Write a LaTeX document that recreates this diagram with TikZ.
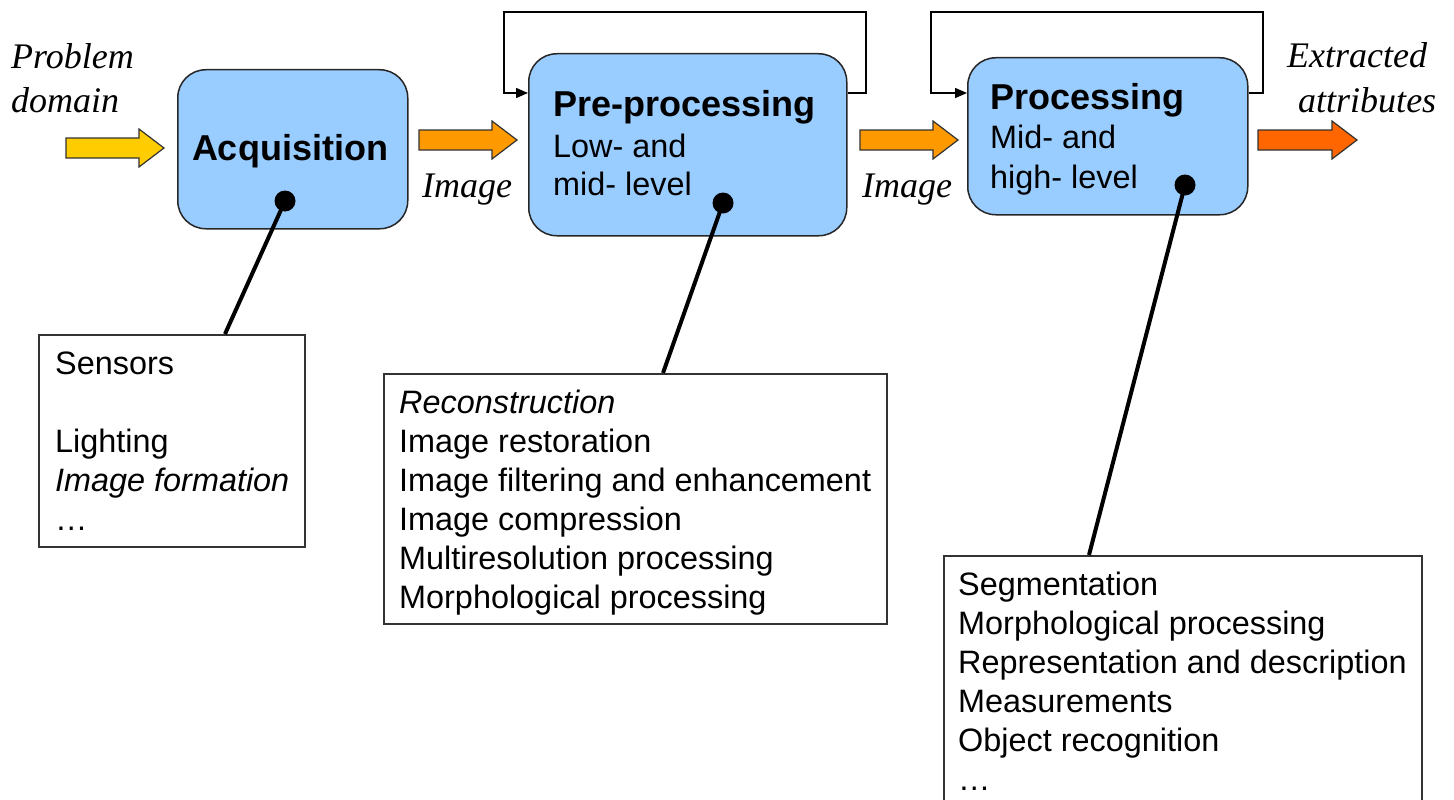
\documentclass[tikz,border=0pt]{standalone}
\usepackage{fontspec}
\setmainfont{Liberation Serif}
\newfontfamily\arialfont{Liberation Sans}
\usetikzlibrary{arrows.meta}
\definecolor{boxblue}{HTML}{99CCFF}
\definecolor{arrowyellow}{HTML}{FFCC00}
\definecolor{arroworange}{HTML}{FF9900}
\definecolor{arrowred}{HTML}{FF6600}
\newcommand\blockarr[5]{% name, x start, x tip, y centre, colour
  \draw[blockarrow, fill=#5] (#2,#4-10) -- (#3-25,#4-10) -- (#3-25,#4-19) -- (#3,#4)
    -- (#3-25,#4+19) -- (#3-25,#4+10) -- (#2,#4+10) -- cycle;
  \coordinate (#1) at (#3,#4);}
\begin{document}
\begin{tikzpicture}[x=1pt,y=-1pt,
  stage/.style={draw=black!85, line width=1.5pt, fill=boxblue, rounded corners=28pt,
    anchor=north west, inner sep=0pt},
  listbox/.style={draw=black!80, line width=1.5pt, fill=white, anchor=north west, inner sep=0pt},
  titletext/.style={font=\arialfont\bfseries\fontsize{36}{43}\selectfont, anchor=base west, inner sep=0pt},
  itemtext/.style={font=\arialfont\fontsize{32.4}{39}\selectfont, anchor=base west, inner sep=0pt},
  labeltext/.style={font=\itshape\fontsize{36}{43}\selectfont, anchor=base west, inner sep=0pt},
  feedback/.style={line width=1.5pt, -{Triangle[length=12pt,width=10pt]}},
  leader/.style={line width=4pt},
  dotnode/.style={circle, fill=black, inner sep=0pt, minimum size=21pt},
  blockarrow/.style={draw=black!80, line width=1.2pt}]
\useasboundingbox (0,0) rectangle (1454,800);
\clip (0,0) rectangle (1454,800);

% stages
\node[stage, minimum width=230pt, minimum height=159pt] (acq) at (177,69) {};
\node[stage, minimum width=318pt, minimum height=182pt] (pre) at (528,53) {};
\node[stage, minimum width=280pt, minimum height=157pt] (proc) at (967,57) {};

\node[titletext, anchor=base] (acqt) at (290,160) {Acquisition};
\node[titletext] (pret) at (553,117) {Pre-processing};
\node[itemtext] (pre1) at (553,157) {Low- and};
\node[itemtext] (pre2) at (553,195) {mid- level};
\node[titletext] (proct) at (990,110) {Processing};
\node[itemtext] (proc1) at (990,148) {Mid- and};
\node[itemtext] (proc2) at (990,188) {high- level};

% outer labels
\node[labeltext] (pd1) at (11,69) {Problem};
\node[labeltext] (pd2) at (11,112) {domain};
\node[labeltext] (img1) at (422,197) {Image};
\node[labeltext] (img2) at (862,197) {Image};
\node[labeltext] (ea1) at (1287,67) {Extracted};
\node[labeltext] (ea2) at (1298,112) {attributes};

% block arrows
\blockarr{a1}{66}{164}{148}{arrowyellow}
\blockarr{a2}{419}{517}{140}{arroworange}
\blockarr{a3}{860}{958}{140}{arroworange}
\blockarr{a4}{1258}{1357}{140}{arrowred}

% feedback loops
\coordinate (fb) at (0,93);
\draw[feedback] (pre.east |- fb) -- (866,93) |- (504,12) |- (pre.west |- fb);
\draw[feedback] (proc.east |- fb) -- (1263,93) |- (931,12) |- (proc.west |- fb);

% list boxes
\node[listbox, minimum width=266pt, minimum height=212pt] (sens) at (38,334) {};
\node[listbox, minimum width=503pt, minimum height=250pt] (rec) at (383,373) {};
\node[listbox, minimum width=478pt, minimum height=260pt] (seg) at (943,555) {};

\node[itemtext] (s1) at (55,374) {Sensors};
\node[itemtext] (s2) at (55,452) {Lighting};
\node[itemtext] (s3) at (55,491) {\itshape Image formation};
\node[itemtext] (s4) at (55,530) {…};

\node[itemtext] (r1) at (399,413) {\itshape Reconstruction};
\node[itemtext] (r2) at (399,452) {Image restoration};
\node[itemtext] (r3) at (399,491) {Image filtering and enhancement};
\node[itemtext] (r4) at (399,530) {Image compression};
\node[itemtext] (r5) at (399,569) {Multiresolution processing};
\node[itemtext] (r6) at (399,608) {Morphological processing};

\node[itemtext] (g1) at (958,595) {Segmentation};
\node[itemtext] (g2) at (958,634) {Morphological processing};
\node[itemtext] (g3) at (958,673) {Representation and description};
\node[itemtext] (g4) at (958,712) {Measurements};
\node[itemtext] (g5) at (958,751) {Object recognition};
\node[itemtext] (g6) at (958,790) {…};

% leaders
\node[dotnode] (acqdot) at (285,201) {};
\node[dotnode] (predot) at (723,203) {};
\node[dotnode] (procdot) at (1185,185) {};
\coordinate (acqend) at (225,334);
\coordinate (preend) at (663,373);
\coordinate (procend) at (1089,555);
\draw[leader] (acqdot.center) -- (acqend);
\draw[leader] (predot.center) -- (preend);
\draw[leader] (procdot.center) -- (procend);
\end{tikzpicture}
\end{document}
